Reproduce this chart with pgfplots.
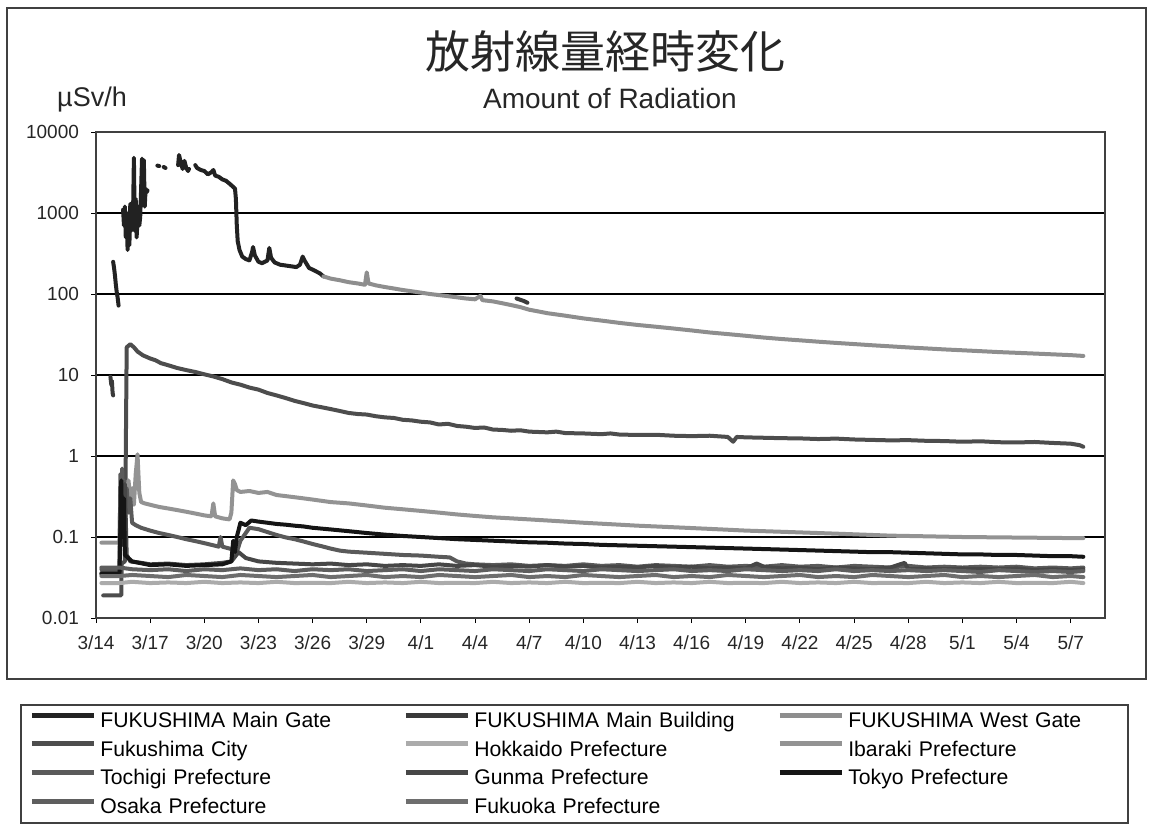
\documentclass[border=0pt]{standalone}
\usepackage{pgfplots}
\pgfplotsset{compat=1.18}
\usepackage{fontspec}
\setmainfont{Liberation Sans}
\newfontfamily\cjk{Noto Sans CJK JP}
\definecolor{cMG}{HTML}{222222}
\definecolor{cMB}{HTML}{3A3A3A}
\definecolor{cWG}{HTML}{8E8E8E}
\definecolor{cFC}{HTML}{4D4D4D}
\definecolor{cHK}{HTML}{ABABAB}
\definecolor{cIB}{HTML}{939393}
\definecolor{cTG}{HTML}{5A5A5A}
\definecolor{cGM}{HTML}{474747}
\definecolor{cTK}{HTML}{151515}
\definecolor{cOS}{HTML}{5E5E5E}
\definecolor{cFK}{HTML}{6E6E6E}
\begin{document}
\begin{tikzpicture}
\path[use as bounding box] (0pt,0pt) rectangle (576pt,-412.5pt);
\draw[line width=0.8pt, black!75] (3.5pt,-4pt) rectangle (573pt,-339.5pt);
\draw[line width=0.8pt, black!75] (10.5pt,-352.5pt) rectangle (564pt,-411.5pt);
\node[font=\cjk\fontsize{22.5}{26}\selectfont, anchor=base, text=black!85] at (302.5pt,-34pt) {放射線量経時変化};
\node[font=\fontsize{14}{16}\selectfont, anchor=base, text=black!85] at (305pt,-54pt) {Amount of Radiation};
\node[font=\fontsize{13.5}{16}\selectfont, anchor=base, text=black!85] at (46pt,-53pt) {µSv/h};
\begin{axis}[
  at={(48pt,-309pt)}, anchor=south west,
  scale only axis, width=504.5pt, height=243pt,
  xmin=0, xmax=55.9, ymode=log, ymin=0.01, ymax=10000,
  xtick={0,3,...,54},
  xticklabels={3/14,3/17,3/20,3/23,3/26,3/29,4/1,4/4,4/7,4/10,4/13,4/16,4/19,4/22,4/25,4/28,5/1,5/4,5/7},
  ytick={0.01,0.1,1,10,100,1000,10000},
  yticklabels={0.01,0.1,1,10,100,1000,10000},
  yminorticks=false,
  xtick pos=bottom, ytick pos=left,
  ymajorgrids, major grid style={black, line width=0.7pt},
  tick align=outside, major tick length=2.5pt, tick style={black, line width=0.5pt},
  axis line style={black!75, line width=0.7pt},
  ticklabel style={font=\fontsize{9.5}{11}\selectfont, text=black!85},
  yticklabel style={xshift=-2.5pt},
  xticklabel style={yshift=-3pt},
  unbounded coords=jump,
  every axis plot/.append style={line width=2pt, line join=round, line cap=round},
  legend columns=3,
  legend image code/.code={\draw[#1, line width=2.5pt, line cap=butt] (0pt,3.5pt) -- (31pt,3.5pt);},
  legend style={at={(-0.0665,-0.192)}, anchor=north west, draw=none, fill=none, inner sep=0pt,
    font=\fontsize{10.6}{13}\selectfont, row sep=3.8pt,
    nodes={inner sep=0pt, text width=151.5pt, text height=8pt, text depth=2.5pt, align=left},
    /tikz/every odd column/.append style={column sep=2pt},
    /tikz/every even column/.append style={column sep=0pt}},
]
% FUKUSHIMA Main Gate
\addplot[color=cMG] coordinates {
(0.95,250)(1.0,210)(1.05,170)(1.1,130)(1.15,105)(1.2,90)(1.25,72)
(1.3,nan)
(1.5,1100)(1.55,700)(1.6,1200)(1.65,500)(1.7,900)(1.75,350)(1.8,1000)(1.85,400)(1.9,1300)(1.95,600)(2.0,1100)(2.05,900)(2.1,4800)(2.15,600)(2.2,1500)(2.25,500)(2.3,800)(2.35,1200)(2.4,700)(2.45,900)(2.5,2000)(2.55,4700)(2.6,1500)(2.65,4500)(2.7,1200)(2.75,2000)(2.8,1800)(2.85,1900)
(3.0,nan)
(3.4,3850)(3.5,3800)
(3.6,nan)
(3.75,3700)(3.85,3600)
(4.0,nan)
(4.55,3900)(4.6,5200)(4.7,4200)(4.8,3500)(4.9,4400)(5.0,3600)(5.1,3300)(5.15,3500)
(5.3,nan)
(5.5,3900)(5.6,3600)(5.8,3400)(6.0,3300)(6.2,3000)(6.4,3200)(6.5,3400)(6.6,2900)(6.8,2800)(7.0,2600)(7.2,2500)(7.4,2300)(7.6,2100)(7.7,2000)(7.75,1500)(7.8,700)(7.85,450)(7.95,350)(8.1,290)(8.3,270)(8.5,260)(8.65,330)(8.7,380)(8.8,300)(9.0,250)(9.2,240)(9.5,260)(9.6,370)(9.7,280)(9.9,245)(10.2,230)(10.5,225)(10.8,220)(11.1,215)(11.3,230)(11.45,290)(11.55,260)(11.8,210)(12.1,195)(12.4,180)(12.6,165)
};
\addlegendentry{FUKUSHIMA Main Gate}
% FUKUSHIMA Main Building
\addplot[color=cMB] coordinates {
(0.8,9.5)(0.85,7.5)(0.88,8.5)(0.92,6)(0.95,5.6)
(1.0,nan)
(23.3,88)(23.5,85)(23.7,82)(23.9,78)
};
\addlegendentry{FUKUSHIMA Main Building}
% FUKUSHIMA West Gate
\addplot[color=cWG] coordinates {
(12.6,165)(13,155)(13.5,148)(14,140)(14.5,135)(14.9,130)(15.0,185)(15.1,135)(15.5,128)(16,122)(16.5,117)(17,112)(17.5,108)(18,104)(18.5,100)(19,97)(19.5,94)(20,91)(20.5,88)(21,86)(21.3,95)(21.4,84)(22,81)(22.5,77)(23,73)(23.5,69)(24,64)(24.5,61)(25,58)(26,54)(27,50)(28,47)(29,44)(30,41.5)(31,39.5)(32,37.5)(33,35.5)(34,33.5)(35,32)(36,30.5)(37,29)(38,27.8)(39,26.8)(40,25.8)(41,24.9)(42,24.1)(43,23.3)(44,22.6)(45,21.9)(46,21.3)(47,20.7)(48,20.2)(49,19.7)(50,19.2)(51,18.8)(52,18.4)(53,18)(54,17.6)(54.7,17.2)
};
\addlegendentry{FUKUSHIMA West Gate}
% Fukushima City
\addplot[color=cFC] coordinates {
(0.4,0.019)(1.4,0.019)(1.42,0.047)(1.6,0.05)(1.7,22)(1.9,24)(2.1,22)(2.3,19.5)(2.6,17.5)(3.0,16)(3.3,15.2)(3.6,14)(4,13.2)(4.5,12.2)(5,11.5)(5.5,10.9)(6,10.2)(6.5,9.6)(7,8.9)(7.5,8.1)(8,7.6)(8.5,7)(9,6.6)(9.5,6)(10,5.6)(10.5,5.2)(11,4.8)(11.5,4.5)(12,4.2)(12.5,4.0)(13,3.8)(13.5,3.6)(14,3.4)(14.5,3.3)(15,3.25)(15.5,3.1)(16,3.0)(16.5,2.95)(17,2.8)(17.5,2.75)(18,2.65)(18.5,2.6)(19,2.45)(19.5,2.5)(20,2.35)(20.5,2.3)(21,2.22)(21.5,2.25)(22,2.12)(22.5,2.1)(23,2.05)(23.5,2.08)(24,2.0)(25,1.96)(25.5,2.0)(26,1.92)(27,1.9)(28,1.86)(28.5,1.9)(29,1.84)(30,1.82)(31,1.83)(32,1.78)(33,1.76)(34,1.78)(35,1.72)(35.3,1.5)(35.5,1.72)(36,1.7)(37,1.68)(38,1.66)(39,1.65)(40,1.62)(41,1.64)(42,1.6)(43,1.58)(44,1.56)(45,1.57)(46,1.54)(47,1.53)(48,1.5)(49,1.52)(50,1.48)(51,1.47)(52,1.49)(53,1.45)(54,1.42)(54.5,1.36)(54.7,1.3)
};
\addlegendentry{Fukushima City}
% Hokkaido
\addplot[color=cHK] coordinates {
(0.3,0.027)(1.3,0.027)(2,0.028)(3,0.027)(4,0.0275)(5,0.027)(6,0.028)(7,0.027)(8,0.0275)(9,0.027)(10,0.028)(11,0.027)(12,0.0272)(13,0.027)(14,0.028)(15,0.027)(16,0.0275)(17,0.027)(18,0.028)(19,0.027)(20,0.0272)(21,0.027)(22,0.028)(23,0.027)(24,0.0275)(25,0.027)(26,0.028)(27,0.027)(28,0.0272)(29,0.027)(30,0.028)(31,0.027)(32,0.0275)(33,0.027)(34,0.028)(35,0.027)(36,0.0272)(37,0.027)(38,0.028)(39,0.027)(40,0.0275)(41,0.027)(42,0.028)(43,0.027)(44,0.0272)(45,0.027)(46,0.028)(47,0.027)(48,0.0275)(49,0.027)(50,0.028)(51,0.027)(52,0.0272)(53,0.027)(54,0.028)(54.7,0.027)
};
\addlegendentry{Hokkaido Prefecture}
% Ibaraki
\addplot[color=cIB] coordinates {
(0.3,0.085)(1.3,0.085)(1.35,0.3)(1.4,0.1)(1.5,0.5)(1.6,0.15)(1.7,0.35)(1.8,0.5)(1.9,0.3)(2.0,0.4)(2.1,0.25)(2.2,0.6)(2.3,1.05)(2.35,0.6)(2.4,0.35)(2.5,0.27)(2.7,0.26)(3,0.25)(3.5,0.235)(4,0.225)(4.5,0.215)(5,0.205)(5.5,0.195)(6,0.185)(6.4,0.18)(6.5,0.26)(6.6,0.18)(7,0.17)(7.4,0.165)(7.5,0.2)(7.6,0.5)(7.7,0.45)(7.8,0.38)(8,0.36)(8.5,0.37)(9,0.35)(9.5,0.36)(10,0.33)(10.5,0.32)(11,0.31)(11.5,0.3)(12,0.29)(13,0.27)(14,0.26)(15,0.245)(16,0.23)(17,0.22)(18,0.21)(19,0.2)(20,0.19)(21,0.182)(22,0.175)(23,0.17)(24,0.165)(25,0.16)(26,0.155)(27,0.15)(28,0.146)(29,0.142)(30,0.138)(31,0.135)(32,0.132)(33,0.129)(34,0.126)(35,0.123)(36,0.12)(37,0.118)(38,0.116)(39,0.114)(40,0.112)(41,0.11)(42,0.108)(43,0.106)(44,0.104)(45,0.103)(46,0.102)(47,0.101)(48,0.1)(50,0.099)(52,0.098)(54,0.097)(54.7,0.097)
};
\addlegendentry{Ibaraki Prefecture}
% Tochigi
\addplot[color=cTG] coordinates {
(0.3,0.04)(1.3,0.04)(1.35,0.6)(1.4,0.2)(1.45,0.7)(1.5,0.3)(1.55,0.5)(1.6,0.25)(1.7,0.4)(1.8,0.2)(1.9,0.3)(2,0.15)(2.2,0.14)(2.5,0.13)(3,0.12)(3.5,0.112)(4,0.106)(4.5,0.1)(5,0.094)(5.5,0.089)(6,0.084)(6.5,0.079)(6.8,0.076)(6.9,0.1)(7.0,0.076)(7.3,0.073)(7.6,0.07)(7.8,0.065)(8,0.09)(8.5,0.13)(9,0.125)(9.5,0.115)(10,0.106)(10.5,0.099)(11,0.094)(11.5,0.088)(12,0.082)(12.5,0.077)(13,0.072)(13.5,0.068)(14,0.066)(15,0.064)(16,0.062)(17,0.06)(18,0.059)(19,0.057)(19.6,0.056)(20,0.05)(20.5,0.047)(21,0.046)(22,0.045)(23,0.046)(24,0.044)(25,0.045)(26,0.044)(27,0.046)(28,0.044)(29,0.045)(30,0.043)(31,0.045)(32,0.044)(33,0.043)(34,0.045)(35,0.043)(36,0.044)(37,0.043)(38,0.045)(39,0.043)(40,0.044)(41,0.042)(42,0.044)(43,0.043)(44,0.042)(45,0.044)(46,0.042)(47,0.043)(48,0.042)(49,0.043)(50,0.042)(51,0.043)(52,0.041)(53,0.042)(54,0.041)(54.7,0.042)
};
\addlegendentry{Tochigi Prefecture}
% Gunma
\addplot[color=cGM] coordinates {
(0.3,0.036)(1.3,0.036)(1.4,0.3)(1.5,0.08)(1.6,0.45)(1.7,0.06)(1.9,0.05)(2.5,0.048)(3,0.046)(4,0.047)(5,0.045)(6,0.046)(7,0.048)(7.5,0.05)(7.9,0.065)(8.3,0.055)(9,0.05)(10,0.048)(11,0.047)(12,0.046)(13,0.047)(14,0.045)(15,0.046)(16,0.044)(17,0.045)(18,0.044)(19,0.046)(20,0.044)(21,0.045)(22,0.043)(23,0.044)(24,0.043)(25,0.045)(26,0.043)(27,0.044)(28,0.042)(29,0.043)(30,0.042)(31,0.044)(32,0.042)(33,0.043)(34,0.041)(35,0.042)(36,0.041)(36.6,0.047)(37,0.043)(38,0.041)(39,0.042)(40,0.04)(41,0.042)(42,0.041)(43,0.04)(44,0.042)(44.8,0.048)(45,0.04)(46,0.041)(47,0.04)(48,0.041)(49,0.04)(50,0.04)(51,0.041)(52,0.039)(53,0.04)(54,0.039)(54.7,0.04)
};
\addlegendentry{Gunma Prefecture}
% Tokyo
\addplot[color=cTK] coordinates {
(0.3,0.035)(1.3,0.035)(1.4,0.5)(1.45,0.1)(1.55,0.3)(1.6,0.06)(2,0.05)(3,0.045)(4,0.046)(5,0.044)(6,0.045)(7,0.046)(7.5,0.05)(7.6,0.09)(7.7,0.065)(7.8,0.1)(8,0.15)(8.3,0.14)(8.6,0.16)(9,0.155)(9.5,0.15)(10,0.145)(10.5,0.142)(11,0.138)(11.5,0.135)(12,0.13)(13,0.124)(14,0.118)(15,0.112)(16,0.107)(17,0.103)(18,0.1)(19,0.097)(20,0.094)(21,0.092)(22,0.09)(23,0.088)(24,0.086)(25,0.085)(26,0.083)(27,0.082)(28,0.08)(29,0.079)(30,0.078)(31,0.077)(32,0.076)(33,0.075)(34,0.074)(35,0.073)(36,0.072)(37,0.071)(38,0.07)(39,0.069)(40,0.068)(41,0.067)(42,0.066)(43,0.065)(44,0.065)(45,0.064)(46,0.063)(47,0.062)(48,0.061)(49,0.061)(50,0.06)(51,0.06)(52,0.059)(53,0.058)(54,0.058)(54.7,0.057)
};
\addlegendentry{Tokyo Prefecture}
% Osaka
\addplot[color=cOS] coordinates {
(0.3,0.042)(1.3,0.042)(2,0.04)(3,0.039)(4,0.04)(5,0.038)(6,0.04)(7,0.039)(8,0.041)(9,0.039)(10,0.04)(11,0.038)(12,0.04)(13,0.039)(14,0.04)(15,0.038)(16,0.039)(17,0.04)(18,0.038)(19,0.04)(20,0.039)(21,0.038)(22,0.04)(23,0.039)(24,0.038)(25,0.04)(26,0.039)(27,0.038)(28,0.04)(29,0.039)(30,0.038)(31,0.039)(32,0.04)(33,0.038)(34,0.039)(35,0.038)(36,0.04)(37,0.039)(38,0.038)(39,0.039)(40,0.038)(41,0.04)(42,0.038)(43,0.039)(44,0.038)(45,0.039)(46,0.038)(47,0.039)(48,0.038)(49,0.037)(50,0.039)(51,0.038)(52,0.037)(53,0.038)(54,0.037)(54.7,0.038)
};
\addlegendentry{Osaka Prefecture}
% Fukuoka
\addplot[color=cFK] coordinates {
(0.3,0.033)(1.3,0.033)(2,0.034)(3,0.033)(4,0.032)(5,0.034)(6,0.033)(7,0.032)(8,0.034)(9,0.033)(10,0.032)(11,0.033)(12,0.034)(13,0.032)(14,0.033)(15,0.034)(16,0.032)(17,0.033)(18,0.032)(19,0.034)(20,0.033)(21,0.032)(22,0.033)(23,0.034)(24,0.032)(25,0.033)(26,0.032)(27,0.034)(28,0.033)(29,0.032)(30,0.033)(31,0.034)(32,0.032)(33,0.033)(34,0.032)(35,0.034)(36,0.033)(37,0.032)(38,0.033)(39,0.034)(40,0.032)(41,0.033)(42,0.032)(43,0.034)(44,0.033)(45,0.032)(46,0.033)(47,0.034)(48,0.032)(49,0.033)(50,0.032)(51,0.033)(52,0.034)(53,0.032)(54,0.033)(54.7,0.032)
};
\addlegendentry{Fukuoka Prefecture}
\end{axis}
\end{tikzpicture}
\end{document}
